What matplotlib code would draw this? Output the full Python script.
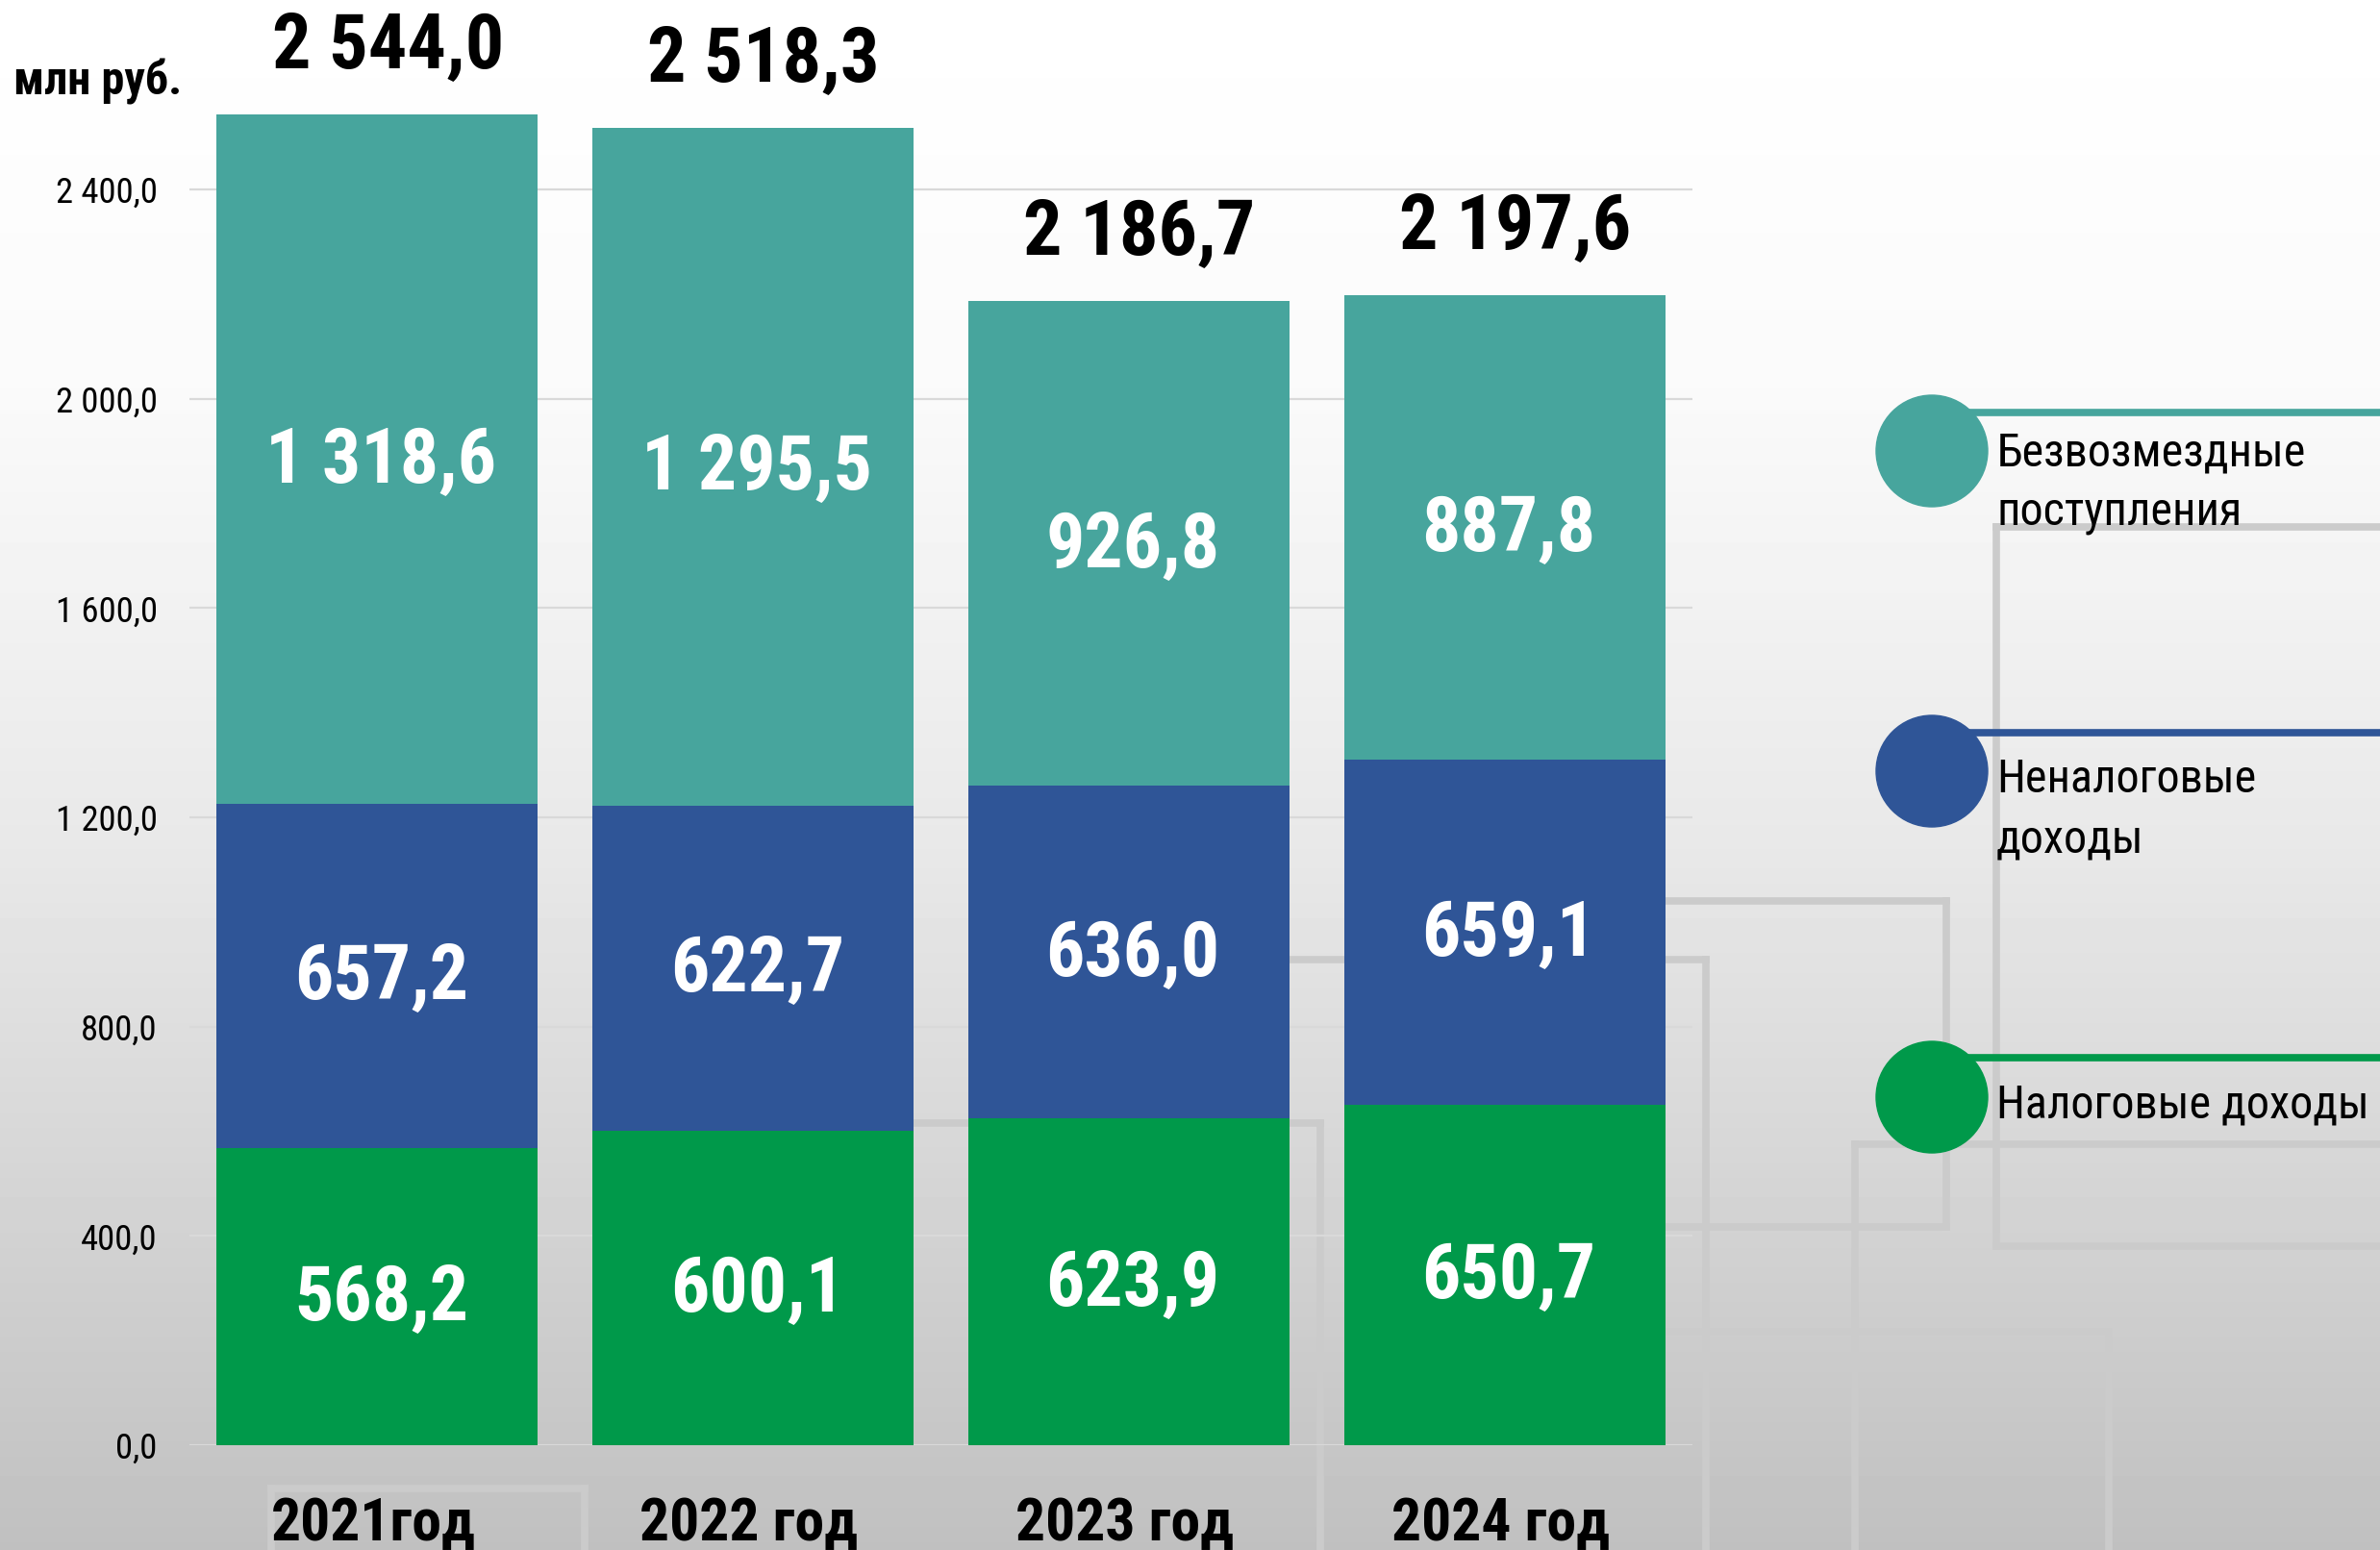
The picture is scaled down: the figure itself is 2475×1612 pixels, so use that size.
import matplotlib
matplotlib.use("Agg")
import matplotlib.pyplot as plt
from matplotlib.patches import Ellipse
from matplotlib.ticker import FuncFormatter
from matplotlib import font_manager
import numpy as np

names = {f.name for f in font_manager.fontManager.ttflist}
NARROW = next((n for n in ["Liberation Sans Narrow", "Roboto Condensed", "IBM Plex Sans Condensed",
                           "Fira Sans Condensed", "Barlow Condensed"] if n in names), "DejaVu Sans")
FAM = [NARROW, "DejaVu Sans"]
plt.rcParams['font.family'] = FAM

# ---- data ----
years = ["2021год", "2022 год", "2023 год", "2024 год"]
tax = [568.2, 600.1, 623.9, 650.7]          # Налоговые доходы
nontax = [657.2, 622.7, 636.0, 659.1]       # Неналоговые доходы
grants = [1318.6, 1295.5, 926.8, 887.8]     # Безвозмездные поступления
totals = [2544.0, 2518.3, 2186.7, 2197.6]
yticks = [0, 400, 800, 1200, 1600, 2000, 2400]
series_names = ["Безвозмездные\nпоступления", "Неналоговые\nдоходы", "Налоговые доходы"]
unit_label = "млн руб."

C_TEAL = "#47A59D"
C_BLUE = "#2F5597"
C_GREEN = "#00994A"

W, H = 2475, 1612
fig = plt.figure(figsize=(W / 100, H / 100), dpi=100)
renderer = fig.canvas.get_renderer()


def size_for(s, target_px, weight, base=50.0):
    t = fig.text(0, 0, s, fontsize=base, fontweight=weight)
    w = t.get_window_extent(renderer).width
    t.remove()
    return base * target_px / w


def fmt(v):
    return f"{v:,.1f}".replace(",", " ").replace(".", ",")


K = 1.05
FS_VAL = size_for("1 318,6", 229, "bold") * K
FS_TOT = size_for("2 544,0", 230, "bold") * K
FS_YEAR = size_for("2022 год", 216, "bold") * K
FS_TICK = size_for("2 400,0", 101, "normal") * K
FS_UNIT = size_for(unit_label, 167, "bold") * K
FS_LEG = size_for("Безвозмездные", 321, "normal")

# background gradient
bg = fig.add_axes([0, 0, 1, 1], zorder=-10)
bg.set_axis_off()
t = np.linspace(0, 1, 400)
vals = np.interp(t, [0, 0.25, 0.55, 1.0], [255, 250, 232, 192]) / 255.0
grad = np.repeat(vals[:, None], 2, axis=1)
bg.imshow(grad, cmap="gray", vmin=0, vmax=1, aspect="auto", extent=[0, W, H, 0])
bg.set_xlim(0, W)
bg.set_ylim(H, 0)
# decorative background lines (pixel coords)
deco = [
    [(2076, 2475), (548, 548)], [(2076, 2076), (548, 1296)], [(2076, 2475), (1296, 1296)],
    [(1700, 2024), (937, 937)], [(2024, 2024), (937, 1276)], [(1700, 2024), (1276, 1276)],
    [(1330, 1774), (998, 998)], [(1774, 1774), (998, 1612)],
    [(930, 1373), (1168, 1168)], [(1373, 1373), (1168, 1612)],
    [(1929, 2475), (1190, 1190)], [(1929, 1929), (1190, 1612)],
    [(1731, 2193), (1385, 1385)], [(2193, 2193), (1385, 1612)],
    [(282, 608), (1548, 1548)], [(282, 282), (1548, 1612)], [(608, 608), (1548, 1612)],
]
for xs, ys in deco:
    bg.plot(xs, ys, color="#cbcbcb", lw=5.5, solid_capstyle="projecting")

# main axes
px_per_unit = 1306 / 2400
y0_px = 1503
ymax = 2750
ax_bottom = (H - y0_px) / H
ax_height = ymax * px_per_unit / H
ax = fig.add_axes([197 / W, ax_bottom, (1760 - 197) / W, ax_height])
ax.set_facecolor("none")
x = np.arange(len(years))
bw = 0.855
ax.bar(x, tax, bw, color=C_GREEN, zorder=3)
ax.bar(x, nontax, bw, bottom=tax, color=C_BLUE, zorder=3)
b2 = np.array(tax) + np.array(nontax)
ax.bar(x, grants, bw, bottom=b2, color=C_TEAL, zorder=3)

ax.set_xlim(-0.5, len(years) - 0.5)
ax.set_ylim(0, ymax)
ax.set_yticks(yticks)
ax.yaxis.set_major_formatter(FuncFormatter(lambda v, p: fmt(v)))
ax.tick_params(axis="y", length=0, pad=24, labelsize=FS_TICK)
ax.tick_params(axis="x", length=0)
ax.set_xticks([])
ax.grid(axis="y", color="#d9d9d9", lw=1.6, zorder=0)
for s in ax.spines.values():
    s.set_visible(False)

for i in range(len(years)):
    for bottom, val in [(0, tax[i]), (tax[i], nontax[i]), (b2[i], grants[i])]:
        ax.annotate(fmt(val), xy=(x[i], bottom + val / 2), xytext=(3, -2), textcoords="offset points",
                    ha="center", va="center", color="white", fontsize=FS_VAL,
                    fontweight="bold", zorder=5)
    ax.annotate(fmt(totals[i]), xy=(x[i], totals[i]), xytext=(8, 50), textcoords="offset points",
                ha="center", va="center", fontsize=FS_TOT, fontweight="bold", color="black",
                annotation_clip=False)
    ax.annotate(years[i], xy=(x[i], 0), xytext=(-3, -59), textcoords="offset points",
                ha="center", va="center", fontsize=FS_YEAR, fontweight="bold", color="black",
                annotation_clip=False)

# overlay for legend and unit label
ov = fig.add_axes([0, 0, 1, 1], zorder=5)
ov.set_xlim(0, W)
ov.set_ylim(H, 0)
ov.set_axis_off()
ov.patch.set_alpha(0)
ov.text(102, 85, unit_label, ha="center", va="center", fontsize=FS_UNIT, fontweight="bold")

leg_colors = [C_TEAL, C_BLUE, C_GREEN]
circ_y = [469, 802, 1141]
line_y = [429, 762, 1100]
text_base = [484, 824, 1163]
line_gap = 62
for c, cy, ly, tb, name in zip(leg_colors, circ_y, line_y, text_base, series_names):
    ov.plot([2008, W], [ly, ly], color=c, lw=5.5, zorder=1)
    ov.add_patch(Ellipse((2009, cy), 116, 116, color=c, zorder=2))
    for k, part in enumerate(name.split("\n")):
        ov.text(2076, tb + k * line_gap, part, ha="left", va="baseline", fontsize=FS_LEG,
                color="black", zorder=3)

fig.savefig("out.png", dpi=100)
